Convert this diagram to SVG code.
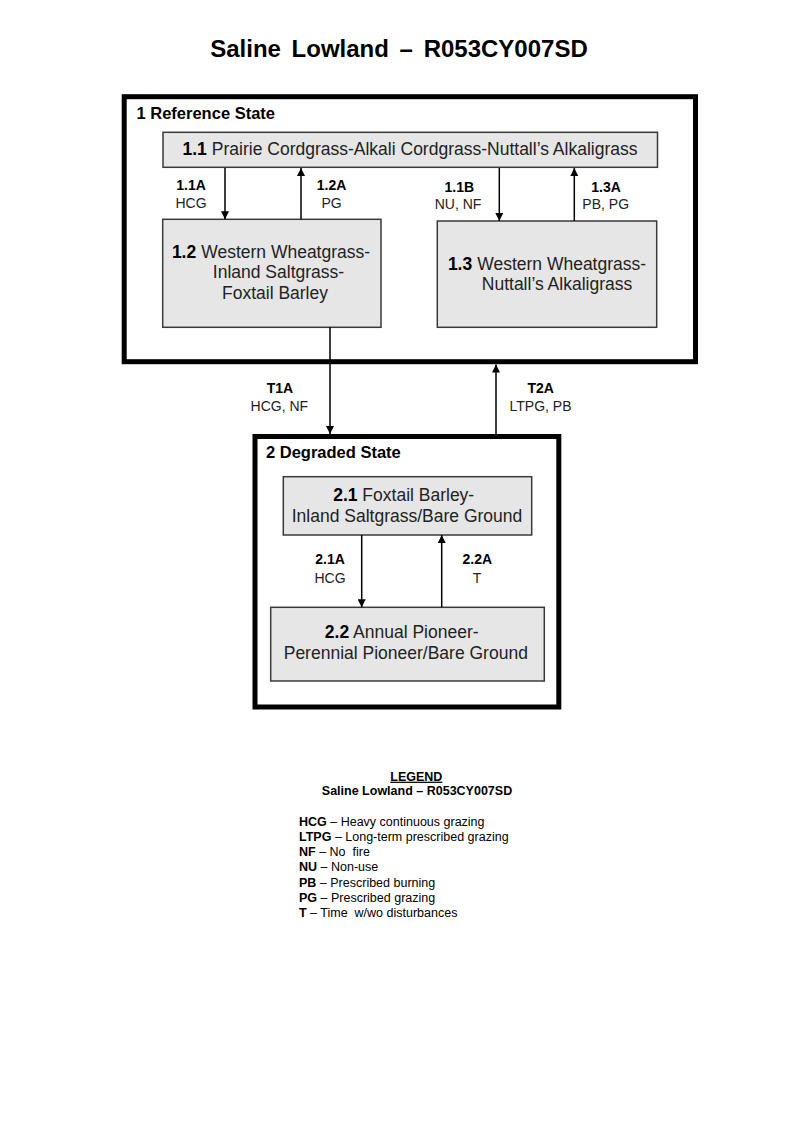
<svg xmlns="http://www.w3.org/2000/svg" width="800" height="1143" viewBox="0 0 800 1143">
<style>
text { font-family: "Liberation Sans", Arial, sans-serif; fill: #000; }
.title { font-size: 24px; font-weight: bold; word-spacing: 4px; }
.state { fill: #fff; stroke: #000; stroke-width: 5; }
.stitle { font-size: 16.5px; font-weight: bold; }
.node { fill: #e6e6e6; stroke: #3a3a3a; stroke-width: 1.5; }
.nt { font-size: 17.5px; text-anchor: middle; fill: #222; }
.b { font-weight: bold; fill: #000; }
.tl { font-size: 14px; font-weight: bold; text-anchor: middle; }
.tc { font-size: 14px; text-anchor: middle; fill: #222; }
.conn { stroke: #000; stroke-width: 1.5; fill: none; marker-end: url(#arr); }
.lg { font-size: 12.5px; }
.lgh { font-size: 12.5px; font-weight: bold; text-anchor: middle; }
</style>
<defs>
<marker id="arr" viewBox="0 0 10 10" refX="10" refY="5" markerUnits="userSpaceOnUse" markerWidth="9" markerHeight="8" orient="auto">
<path d="M0,0 L10,5 L0,10 z" fill="#000"/>
</marker>
</defs>
<rect width="800" height="1143" fill="#fff"/>
<text class="title" x="399" y="56.5" text-anchor="middle">Saline Lowland – R053CY007SD</text>

<g id="state1">
<rect class="state" x="124.2" y="96.7" width="571.3" height="265"/>
<text class="stitle" x="136.5" y="119">1 Reference State</text>
</g>

<g id="state2">
<rect class="state" x="255" y="436.5" width="303.8" height="270.5"/>
<text class="stitle" x="266" y="457.5">2 Degraded State</text>
</g>

<g id="n11">
<rect class="node" x="163" y="132.3" width="494.5" height="35"/>
<text class="nt" x="410" y="154.5"><tspan class="b">1.1</tspan><tspan dx="5">Prairie Cordgrass-Alkali Cordgrass-Nuttall’s Alkaligrass</tspan></text>
</g>

<g id="n12">
<rect class="node" x="162.7" y="219.3" width="218.3" height="108"/>
<text class="nt" x="271" y="258.3"><tspan class="b">1.2</tspan><tspan dx="5">Western Wheatgrass-</tspan></text>
<text class="nt" x="278.5" y="278.3">Inland  Saltgrass-</text>
<text class="nt" x="275" y="299.3">Foxtail Barley</text>
</g>

<g id="n13">
<rect class="node" x="437.3" y="221" width="219.4" height="106.3"/>
<text class="nt" x="547" y="270"><tspan class="b">1.3</tspan><tspan dx="5">Western Wheatgrass-</tspan></text>
<text class="nt" x="557" y="290">Nuttall’s Alkaligrass</text>
</g>

<g id="n21">
<rect class="node" x="283.3" y="476.7" width="248.4" height="58.3"/>
<text class="nt" x="403.7" y="500.7"><tspan class="b">2.1</tspan> Foxtail  Barley-</text>
<text class="nt" x="407" y="521.7">Inland  Saltgrass/Bare Ground</text>
</g>

<g id="n22">
<rect class="node" x="270.7" y="607.3" width="273.6" height="73.7"/>
<text class="nt" x="401.7" y="638.3"><tspan class="b">2.2</tspan> Annual  Pioneer-</text>
<text class="nt" x="405.8" y="659.3">Perennial Pioneer/Bare Ground</text>
</g>

<g id="connectors">
<line class="conn" x1="225" y1="168" x2="225" y2="219.3"/>
<line class="conn" x1="301" y1="219.3" x2="301" y2="168"/>
<line class="conn" x1="499.3" y1="168" x2="499.3" y2="221"/>
<line class="conn" x1="574.3" y1="221" x2="574.3" y2="168"/>
<line class="conn" x1="330" y1="327.3" x2="330" y2="434"/>
<line class="conn" x1="496" y1="434" x2="496" y2="364.5"/>
<line class="conn" x1="361.7" y1="535" x2="361.7" y2="607.3"/>
<line class="conn" x1="441.7" y1="607.3" x2="441.7" y2="535"/>
</g>

<g id="labels">
<text class="tl" x="191" y="190">1.1A</text>
<text class="tc" x="191" y="208">HCG</text>
<text class="tl" x="331.5" y="190">1.2A</text>
<text class="tc" x="331.5" y="208">PG</text>
<text class="tl" x="459.3" y="191.5">1.1B</text>
<text class="tc" x="458" y="209">NU, NF</text>
<text class="tl" x="606" y="191.5">1.3A</text>
<text class="tc" x="605.7" y="209">PB, PG</text>
<text class="tl" x="280" y="393.3">T1A</text>
<text class="tc" x="279.3" y="410.7">HCG, NF</text>
<text class="tl" x="540.7" y="393.3">T2A</text>
<text class="tc" x="540.5" y="410.7">LTPG, PB</text>
<text class="tl" x="330" y="564">2.1A</text>
<text class="tc" x="330" y="583.3">HCG</text>
<text class="tl" x="477.3" y="564">2.2A</text>
<text class="tc" x="477" y="583.3">T</text>
</g>

<g id="legend">
<text class="lgh" x="416.3" y="780.7" text-decoration="underline">LEGEND</text>
<text class="lgh" x="417" y="795">Saline Lowland – R053CY007SD</text>
<text class="lg" x="299" y="825.7" xml:space="preserve"><tspan font-weight="bold">HCG</tspan> – Heavy continuous grazing</text>
<text class="lg" x="299" y="840.9" xml:space="preserve"><tspan font-weight="bold">LTPG</tspan> – Long-term prescribed grazing</text>
<text class="lg" x="299" y="856.1" xml:space="preserve"><tspan font-weight="bold">NF</tspan> – No  fire</text>
<text class="lg" x="299" y="871.3" xml:space="preserve"><tspan font-weight="bold">NU</tspan> – Non-use</text>
<text class="lg" x="299" y="886.5" xml:space="preserve"><tspan font-weight="bold">PB</tspan> – Prescribed burning</text>
<text class="lg" x="299" y="901.7" xml:space="preserve"><tspan font-weight="bold">PG</tspan> – Prescribed grazing</text>
<text class="lg" x="299" y="916.9" xml:space="preserve"><tspan font-weight="bold">T</tspan> – Time  w/wo disturbances</text>
</g>
</svg>
